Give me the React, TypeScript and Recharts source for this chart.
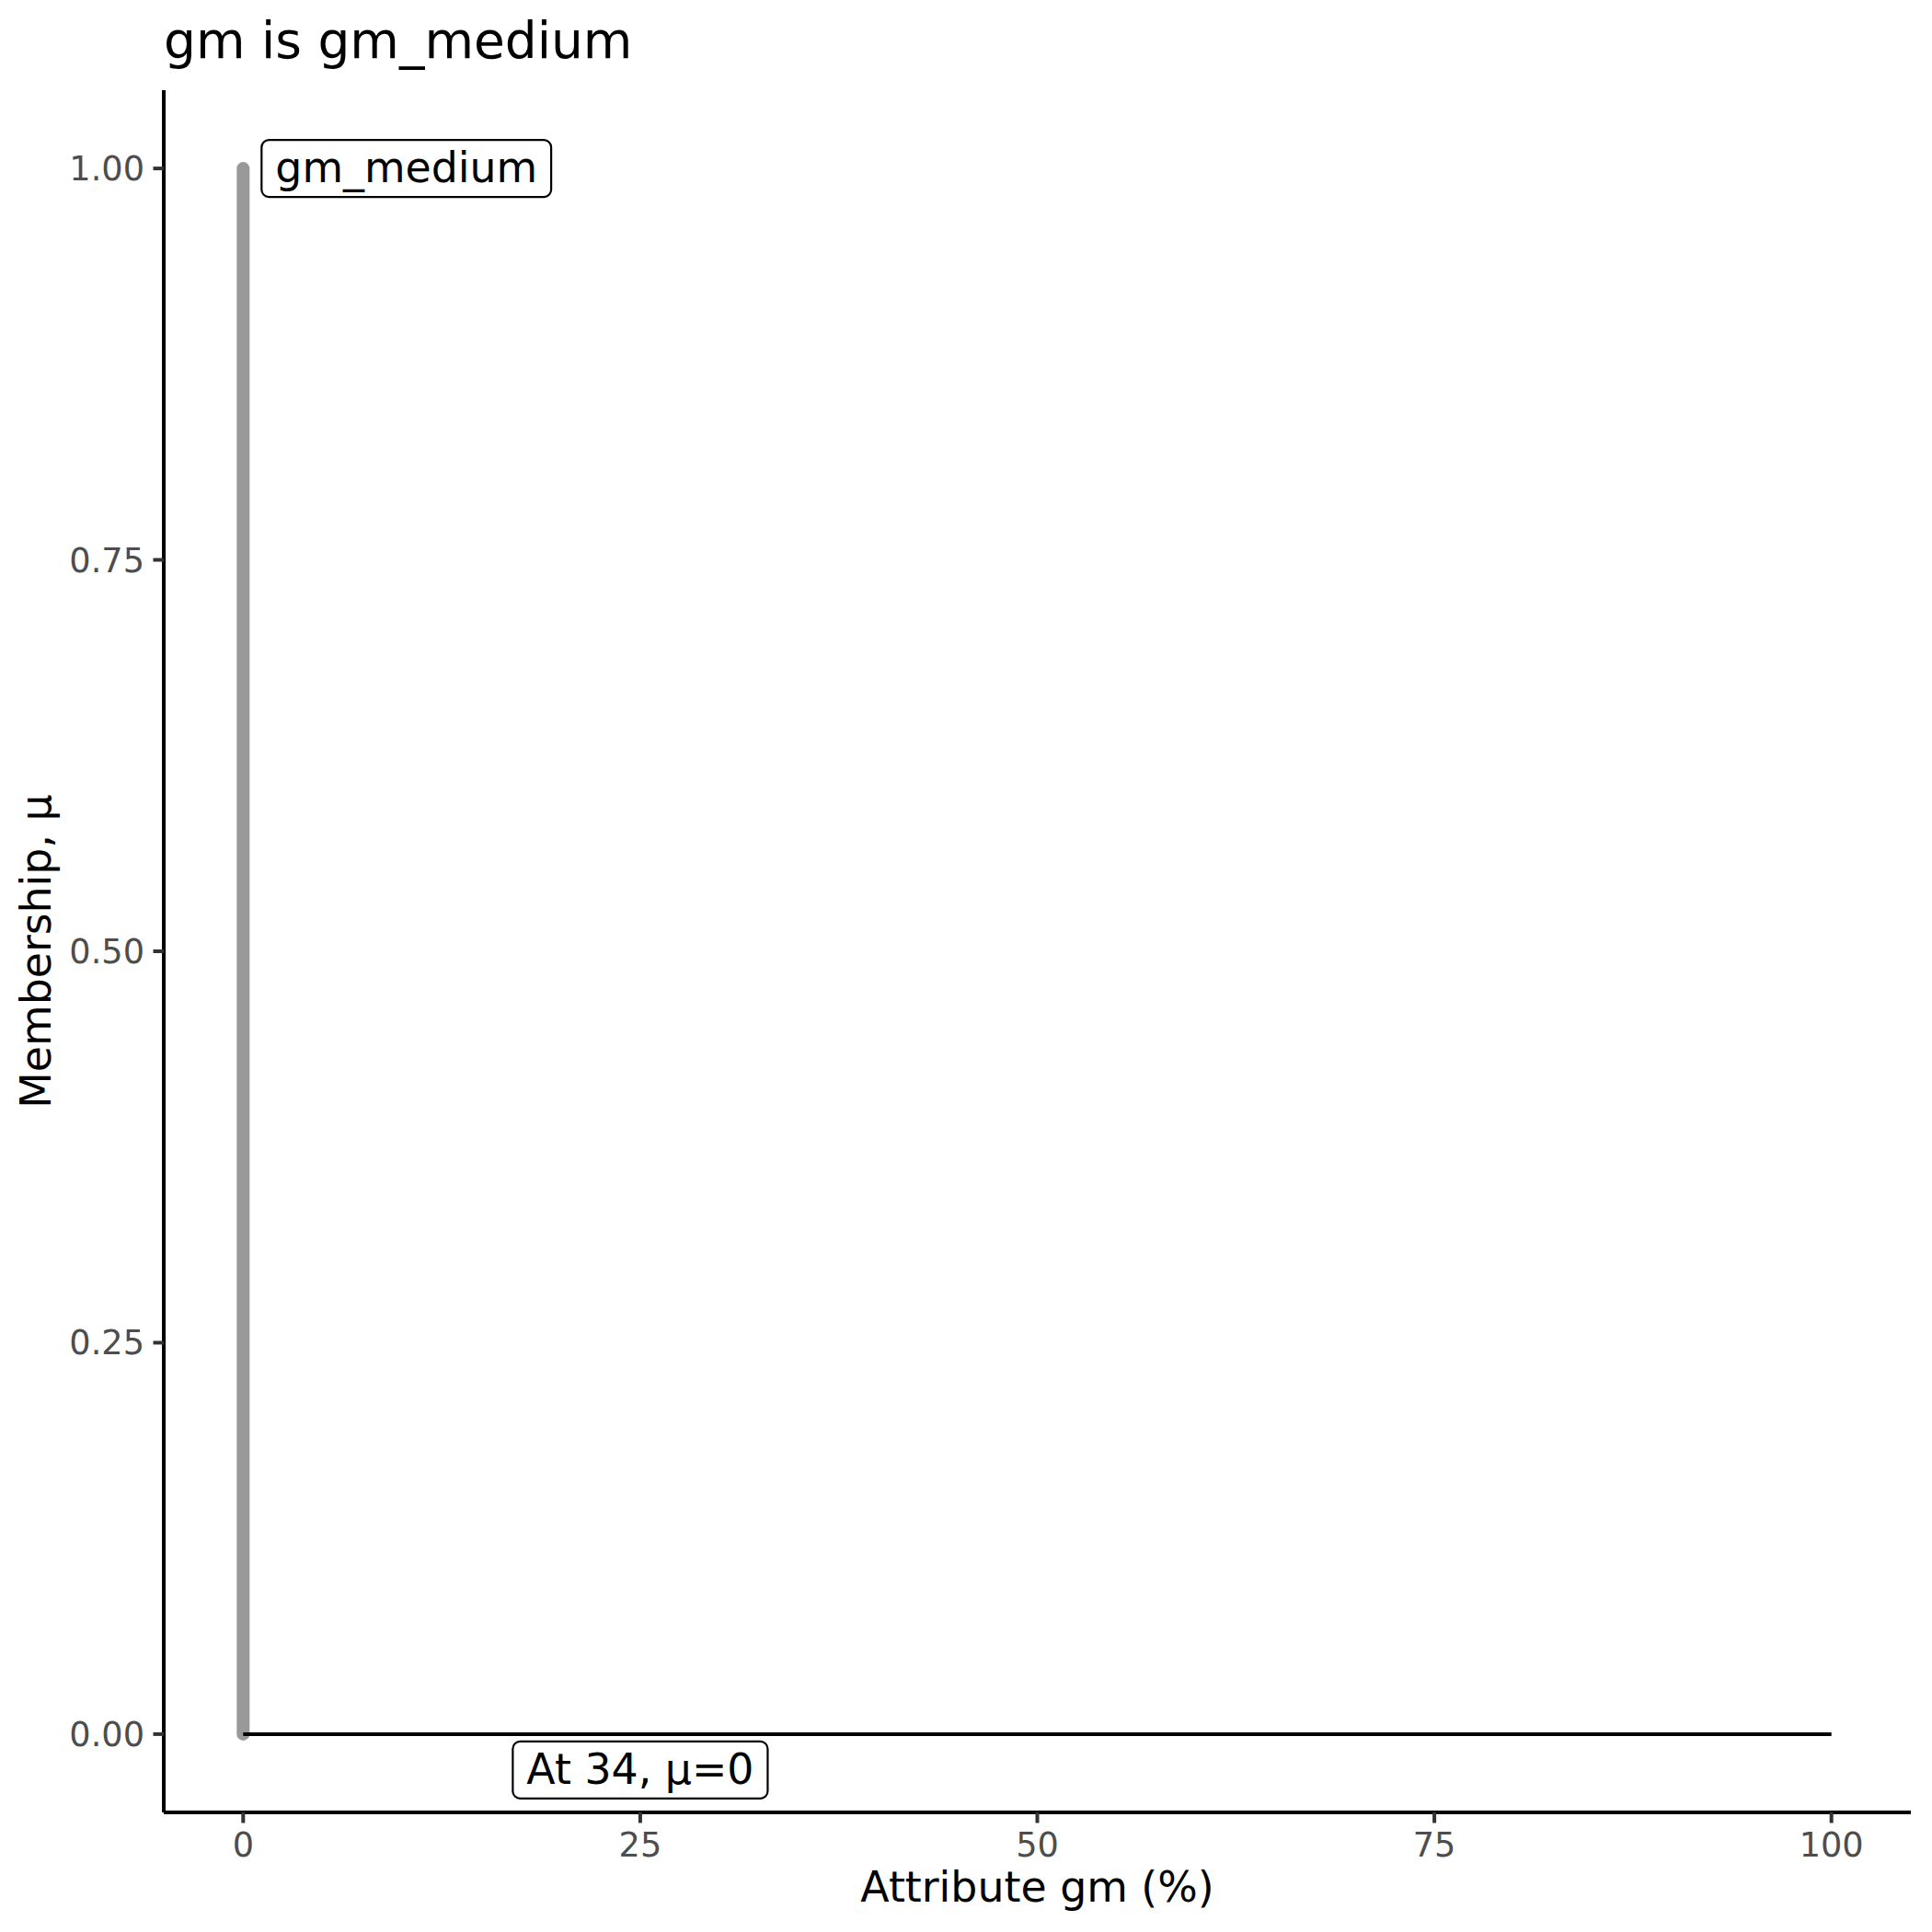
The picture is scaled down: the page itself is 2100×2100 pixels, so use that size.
import { ComposedChart, Line, Scatter, XAxis, YAxis } from "recharts";

const xTicks = [0, 25, 50, 75, 100];
const yTicks = [0, 0.25, 0.5, 0.75, 1];

// grey membership segment and the black evaluation line
const membershipX = [0, 0];
const membershipY = [0, 1];
const evalX = [0, 100];
const evalY = [0, 0];

// boxed annotations
const labelText = ["gm_medium", "At 34, μ=0"];
const labelX = [0, 25];
const labelY = [1, 0];
const labelAnchor = ["left", "below"];

const membership = membershipX.map((x, i) => ({ x, y: membershipY[i] }));
const evalLine = evalX.map((x, i) => ({ x, y: evalY[i] }));
const labels = labelText.map((text, i) => ({
  x: labelX[i],
  y: labelY[i],
  text,
  anchor: labelAnchor[i],
}));

const FONT = "DejaVu Sans";
const LABEL_SIZE = 45.8;

let ctx: CanvasRenderingContext2D | null = null;
function textWidth(s: string) {
  if (!ctx) ctx = document.createElement("canvas").getContext("2d");
  if (!ctx) return s.length * LABEL_SIZE * 0.6;
  ctx.font = `${LABEL_SIZE}px "${FONT}"`;
  return ctx.measureText(s).width;
}

function BoxLabel(props: any) {
  const { cx, cy, payload } = props;
  const w = textWidth(payload.text) + 30;
  const h = 62;
  let left = cx + 20;
  let top = cy - h / 2;
  if (payload.anchor === "below") {
    left = cx - w / 2;
    top = cy + 8;
  }
  return (
    <g>
      <rect
        x={left}
        y={top}
        width={w}
        height={h}
        rx={8}
        ry={8}
        fill="#ffffff"
        stroke="#000000"
        strokeWidth={2.2}
      />
      <text
        x={left + 15}
        y={top + 46}
        fontSize={LABEL_SIZE}
        fontFamily={FONT}
        fill="#000000"
      >
        {payload.text}
      </text>
    </g>
  );
}

export default function App() {
  return (
    <div
      style={{
        position: "absolute",
        left: 0,
        top: 0,
        width: 2100,
        height: 2100,
        background: "#ffffff",
        fontFamily: FONT,
      }}
    >
      <ComposedChart
        width={2100}
        height={2100}
        margin={{ top: 98, right: 23, bottom: 0, left: 0 }}
      >
        <text x={178} y={63} fontSize={55} fontFamily={FONT} fill="#000000">
          gm is gm_medium
        </text>

        <XAxis
          type="number"
          dataKey="x"
          domain={[-5, 105]}
          ticks={xTicks}
          allowDataOverflow
          height={130}
          tickSize={11.5}
          tickMargin={10}
          axisLine={{ stroke: "#000000", strokeWidth: 4 }}
          tickLine={{ stroke: "#333333", strokeWidth: 4 }}
          tick={{ fill: "#4d4d4d", fontSize: 36.7, fontFamily: FONT }}
          label={{
            content: (p: any) => {
              const vb = p.viewBox;
              return (
                <text
                  x={vb.x + vb.width / 2}
                  y={vb.y + 97}
                  textAnchor="middle"
                  fontSize={45.8}
                  fontFamily={FONT}
                  fill="#000000"
                >
                  Attribute gm (%)
                </text>
              );
            },
          }}
        />
        <YAxis
          type="number"
          dataKey="y"
          domain={[-0.05, 1.05]}
          ticks={yTicks}
          allowDataOverflow
          width={178}
          tickSize={11.5}
          tickMargin={9.5}
          tickFormatter={(v: number) => v.toFixed(2)}
          axisLine={{ stroke: "#000000", strokeWidth: 4 }}
          tickLine={{ stroke: "#333333", strokeWidth: 4 }}
          tick={{ fill: "#4d4d4d", fontSize: 36.7, fontFamily: FONT }}
          label={{
            content: (p: any) => {
              const vb = p.viewBox;
              const x = 55;
              const y = vb.y + vb.height / 2;
              return (
                <text
                  x={x}
                  y={y}
                  transform={`rotate(-90 ${x} ${y})`}
                  textAnchor="middle"
                  fontSize={45.8}
                  fontFamily={FONT}
                  fill="#000000"
                >
                  Membership, μ
                </text>
              );
            },
          }}
        />

        <Line
          data={membership}
          dataKey="y"
          type="linear"
          stroke="#999999"
          strokeWidth={14}
          strokeLinecap="round"
          dot={false}
          activeDot={false}
          isAnimationActive={false}
        />
        <Line
          data={evalLine}
          dataKey="y"
          type="linear"
          stroke="#000000"
          strokeWidth={4}
          dot={false}
          activeDot={false}
          isAnimationActive={false}
        />
        <Scatter
          data={labels}
          dataKey="y"
          shape={BoxLabel}
          isAnimationActive={false}
        />
      </ComposedChart>
    </div>
  );
}
